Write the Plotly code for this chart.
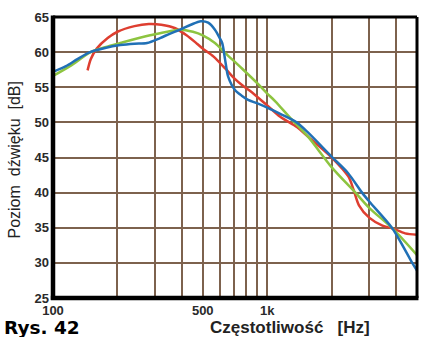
import plotly.graph_objects as go

# ---- data ----
red_f = [145, 150, 160, 180, 200, 240, 280, 320, 372, 420, 470, 500, 560, 640, 700, 770, 830,
         1000, 1150, 1380, 1544, 2000, 2390, 2530, 2680, 3000, 3450, 3840, 4400, 5000]
red_db = [57.4, 59.0, 60.5, 62.0, 62.9, 63.7, 64.0, 63.9, 63.4, 62.4, 61.2, 60.5, 59.4, 57.6, 56.3, 55.2, 54.5,
          52.4, 50.8, 49.3, 48.0, 45.0, 42.3, 40.4, 38.2, 36.4, 35.3, 34.9, 34.2, 34.0]

blue_f = [100, 115, 130, 149, 175, 206, 240, 275, 316, 350, 392, 440, 490, 530, 570, 600, 616, 636, 657,
          707, 760, 814, 900, 1000, 1150, 1370, 1544, 2000, 2380, 2770, 3000, 3840, 4750, 5000]
blue_db = [57.2, 58.0, 59.0, 60.0, 60.6, 61.0, 61.2, 61.3, 62.0, 62.6, 63.2, 63.9, 64.4, 64.2, 63.2, 62.0, 61.3, 58.9, 56.5,
           54.6, 53.8, 53.2, 52.7, 52.1, 51.2, 50.0, 48.6, 45.1, 42.8, 40.0, 38.7, 34.9, 30.0, 28.9]

green_f = [100, 120, 150, 175, 206, 284, 392, 450, 500, 570, 636, 760, 910, 1000, 1090, 1283, 1556,
           2000, 2580, 3000, 3840, 5000]
green_db = [56.6, 58.0, 60.0, 60.7, 61.3, 62.4, 63.2, 62.9, 62.4, 61.3, 59.9, 57.7, 55.4, 54.1, 53.0, 50.6, 47.9,
            43.6, 40.0, 37.8, 34.9, 31.1]

x_grid = [100, 200, 300, 400, 500, 600, 700, 800, 900, 1000, 2000, 3000, 4000, 5000]
x_labels = {100: "100", 500: "500", 1000: "1k", 5000: "5k"}
y_ticks = [25, 30, 35, 40, 45, 50, 55, 60, 65]

FONT = "Liberation Sans, Arial, sans-serif"

fig = go.Figure()
for f, db, col in [(red_f, red_db, "rgb(222,62,48)"),
                   (green_f, green_db, "rgb(141,196,64)"),
                   (blue_f, blue_db, "rgb(32,112,182)")]:
    fig.add_trace(go.Scatter(x=f, y=db, mode="lines",
                             line=dict(color=col, width=2.5, shape="spline", smoothing=0.8),
                             hoverinfo="skip", showlegend=False))

grid_col = "rgb(125,98,78)"
fig.update_xaxes(type="log", range=[2, 3.69897], tickvals=x_grid,
                 ticktext=[x_labels.get(v, "") for v in x_grid],
                 showgrid=True, gridcolor=grid_col, gridwidth=1.5, zeroline=False,
                 ticks="", ticklabelstandoff=3,
                 tickfont=dict(family=FONT, size=13, color="#2a2a2a", weight="bold"),
                 showline=False)
fig.update_yaxes(range=[25, 65], tickvals=y_ticks, showgrid=True, gridcolor=grid_col, gridwidth=1.5,
                 zeroline=False, ticks="", ticklabelstandoff=3,
                 tickfont=dict(family=FONT, size=13, color="#2a2a2a", weight="bold"),
                 showline=False)

# frame
fig.add_shape(type="line", xref="paper", yref="paper", x0=0, x1=1, y0=1, y1=1,
              line=dict(color="black", width=3))
fig.add_shape(type="line", xref="paper", yref="paper", x0=1, x1=1, y0=0, y1=1,
              line=dict(color="black", width=3))
fig.add_shape(type="line", xref="paper", yref="paper", x0=0, x1=0, y0=-0.006, y1=1.005,
              line=dict(color="black", width=4.5))
fig.add_shape(type="line", xref="paper", yref="paper", x0=-0.006, x1=1.004, y0=0, y1=0,
              line=dict(color="black", width=4.5))

# plot area: x 53..417, y 17..298 (364 x 281 px)
fig.add_annotation(text="Poziom\u00a0\u00a0dźwięku\u00a0\u00a0[dB]", xref="paper", yref="paper",
                   x=(13.5 - 53) / 364, y=(298 - 160) / 281, textangle=-90, showarrow=False,
                   xanchor="center", yanchor="middle",
                   font=dict(family=FONT, size=16, color="#222222"))
fig.add_annotation(text="<b>Częstotliwość\u00a0\u00a0\u00a0[Hz]</b>", xref="paper", yref="paper",
                   x=(290 - 53) / 364, y=(298 - 327) / 281, showarrow=False,
                   xanchor="center", yanchor="middle",
                   font=dict(family=FONT, size=17, color="#222222"))
fig.add_annotation(text="<b>Rys. 42</b>", xref="paper", yref="paper",
                   x=(3 - 53) / 364, y=(298 - 327) / 281, showarrow=False,
                   xanchor="left", yanchor="middle", borderpad=0,
                   font=dict(family="DejaVu Sans, sans-serif", size=18.5, color="black"))

fig.update_layout(width=423, height=337, margin=dict(l=53, r=6, t=17, b=39),
                  paper_bgcolor="white", plot_bgcolor="white")

fig.write_html("out.html", config={"displayModeBar": False},
               post_script="document.body.style.margin='0';document.body.style.overflow='hidden';")
